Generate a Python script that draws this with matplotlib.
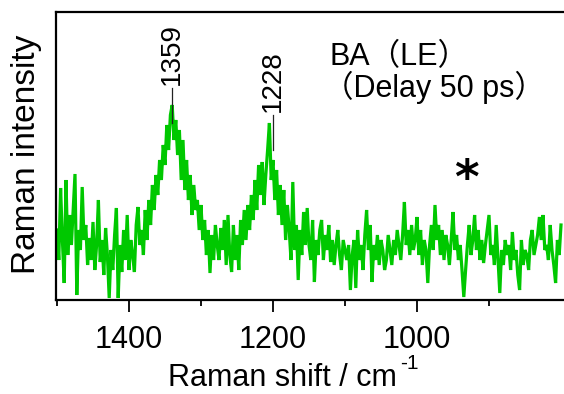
import numpy as np
import matplotlib
matplotlib.use('Agg')
import matplotlib.pyplot as plt

# Raman intensity (arbitrary units) sampled every 2.5 cm-1 from 1500 cm-1 downward
intensity_1500_1385 = [70, 40, 112, 60, 17, 120, 45, 85, 55, 90, 126, 5, 70, 50, 113, 60,
                       75, 35, 62, 40, 78, 30, 55, 100, 38, 60, 25, 72, 45, 2, 50, 30,
                       65, 92, 2, 55, 28, 70, 40, 85, 30, 60, 45, 28, 75, 93, 55]
intensity_1382_1270 = [70, 45, 90, 60, 100, 75, 115, 90, 125, 105, 140, 120, 155, 135, 175,
                       150, 185, 195, 160, 180, 145, 170, 120, 160, 110, 140, 100, 125, 85,
                       115, 90, 100, 70, 95, 60, 80, 45, 70, 27, 65, 40, 75, 55, 40, 72, 50]
intensity_1267_1155 = [80, 35, 85, 45, 28, 75, 40, 65, 30, 80, 55, 90, 60, 95, 70, 105, 80,
                       120, 90, 135, 105, 138, 95, 125, 150, 177, 120, 140, 100, 130, 85,
                       115, 75, 110, 60, 95, 70, 40, 118, 50, 75, 20, 70, 45, 88, 55]
intensity_1152_1040 = [92, 55, 40, 80, 18, 60, 45, 70, 80, 40, 65, 50, 75, 38, 60, 35, 55,
                       70, 45, 30, 60, 50, 40, 55, 10, 45, 60, 12, 70, 40, 55, 30, 65, 90,
                       50, 75, 18, 55, 40, 65, 35, 60, 50, 30, 40, 65]
intensity_1037_917 = [50, 35, 60, 45, 70, 55, 40, 65, 98, 55, 70, 45, 75, 50, 60, 83, 45,
                      70, 35, 60, 50, 17, 55, 75, 50, 95, 60, 75, 45, 70, 40, 65, 55, 35,
                      60, 88, 50, 65, 40, 55, 30, 3, 30, 55, 75, 45, 60, 85, 50]
intensity_915_800 = [70, 40, 60, 37, 55, 70, 85, 45, 55, 35, 75, 40, 7, 50, 35, 60, 45, 55,
                     30, 68, 40, 50, 25, 10, 60, 35, 50, 45, 30, 60, 70, 45, 55, 65, 83,
                     60, 85, 50, 55, 40, 75, 50, 35, 17, 60, 45, 75]

intensity = (intensity_1500_1385 + intensity_1382_1270 + intensity_1267_1155 +
             intensity_1152_1040 + intensity_1037_917 + intensity_915_800)
shift_start = 1500.0
shift_step = 2.5
raman_shift = shift_start - shift_step * np.arange(len(intensity))

major_ticks = [1400, 1200, 1000]
minor_ticks = [1500, 1300, 1100, 900]
peak_labels = ['1359', '1228']
peak_x = [1340.3, 1200.5]
peak_line_low = [177, 150]
peak_line_high = [212, 185]

W, H = 564, 394
fig = plt.figure(figsize=(W / 100, H / 100), dpi=100)
fig.patch.set_facecolor('white')
plt.rcParams['font.family'] = ['Liberation Sans', 'Noto Sans CJK JP', 'DejaVu Sans']

ax = fig.add_axes([56 / W, 94 / H, (574 - 56) / W, 288 / H])
ax.plot(raman_shift, intensity, color='#00c800', lw=2.3, solid_joinstyle='miter')
px_per_unit = 0.72
ax.set_xlim(1500 + 1 / px_per_unit, 1500 - (574 - 57) / px_per_unit)
ax.set_ylim(0, 288)

for s in ax.spines.values():
    s.set_linewidth(1.6)
ax.spines['right'].set_visible(False)

ax.set_xticks(major_ticks)
ax.set_xticks(minor_ticks, minor=True)
ax.set_yticks([])
ax.tick_params(axis='x', which='major', direction='out', length=8.6, width=1.3,
               labelsize=22, pad=9.5)
ax.tick_params(axis='x', which='minor', direction='out', length=4.3, width=1.3)

for lab, x, lo, hi in zip(peak_labels, peak_x, peak_line_low, peak_line_high):
    ax.plot([x, x], [lo, hi], color='#222222', lw=0.9)
    ax.text(x, hi + 3, lab, rotation=90, ha='center', va='bottom', fontsize=20)

# texts in pixel positions (from top)
def fx(px):
    return px / W

def fy(py):
    return 1 - py / H

fig.text(fx(330), fy(65), 'BA（LE）', ha='left', va='baseline', fontsize=22)
fig.text(fx(323), fy(97), '（Delay 50 ps）', ha='left', va='baseline', fontsize=22)
fig.text(fx(466), fy(180), '*', ha='center', va='center', fontsize=34,
         family='DejaVu Sans', fontweight='bold')

fig.text(fx(282), fy(386), 'Raman shift / cm', ha='center', va='baseline', fontsize=22)
fig.text(fx(400), fy(369), '-1', ha='left', va='baseline', fontsize=15)
fig.text(fx(27), fy(154), 'Raman intensity', ha='center', va='center', rotation=90,
         fontsize=24)

fig.savefig('out.png', dpi=100, facecolor='white')
